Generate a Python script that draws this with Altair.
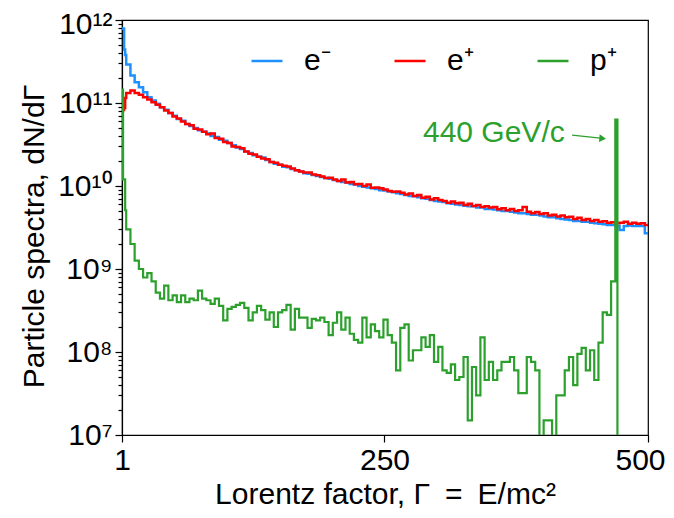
import altair as alt
import pandas as pd

FONT = "Liberation Sans"
GREEN = "#2ca02c"
FS = 30

# Left bin edges of the histogram (Lorentz factor), last edge closes at 500
gamma_edges = [1, 2, 3, 4] + list(range(5, 469, 4)) + [469, 471] + list(range(473, 500, 4))
gamma_max = 500

electrons = [7.9e11, 7.9e11, 4.4e11, 3.8e11,
             2.9e11, 2.15e11, 1.78e11, 1.55e11, 1.35e11, 1.17e11, 1.07e11, 9.8e10, 8.9e10, 8.3e10,
             7.6e10, 7.0e10, 6.4e10, 6.1e10, 5.6e10, 5.3e10, 5.0e10, 4.7e10, 4.5e10, 4.3e10,
             4.0e10, 3.9e10, 3.6e10, 3.5e10, 3.3e10, 3.1e10, 2.9e10, 2.8e10, 2.6e10, 2.5e10,
             2.35e10, 2.25e10, 2.2e10, 2.05e10, 1.95e10, 1.85e10, 1.8e10, 1.7e10, 1.68e10, 1.6e10,
             1.55e10, 1.5e10, 1.42e10, 1.4e10, 1.36e10, 1.32e10, 1.28e10, 1.25e10, 1.22e10, 1.18e10,
             1.15e10, 1.12e10, 1.1e10, 1.06e10, 1.04e10, 1.0e10, 9.8e9, 9.6e9, 9.4e9, 9.2e9,
             8.9e9, 8.8e9, 8.6e9, 8.4e9, 8.2e9, 8.0e9, 7.8e9, 7.6e9, 7.5e9, 7.3e9,
             7.1e9, 7.0e9, 6.8e9, 6.6e9, 6.5e9, 6.4e9, 6.2e9, 6.1e9, 6.0e9, 5.9e9,
             5.8e9, 5.7e9, 5.7e9, 5.5e9, 5.5e9, 5.3e9, 5.3e9, 5.2e9, 5.1e9, 5.0e9,
             5.0e9, 4.9e9, 4.8e9, 4.7e9, 4.7e9, 4.6e9, 4.5e9, 4.5e9, 4.4e9, 4.3e9,
             4.2e9, 4.2e9, 4.1e9, 4.0e9, 3.95e9, 3.9e9, 3.8e9, 3.8e9, 3.7e9, 3.7e9,
             3.6e9, 3.55e9, 3.5e9, 3.45e9, 3.4e9, 3.4e9,
             3.3e9, 3.3e9, 2.95e9, 3.3e9, 3.35e9, 3.3e9, 3.3e9, 3.3e9, 2.7e9]

positrons = [8.0e10, 8.3e10, 8.7e10, 1.15e11,
             1.32e11, 1.41e11, 1.32e11, 1.26e11, 1.17e11, 1.10e11, 1.02e11, 9.5e10, 8.9e10, 8.1e10,
             7.6e10, 6.9e10, 6.5e10, 6.0e10, 5.6e10, 5.4e10, 4.9e10, 4.8e10, 4.5e10, 4.2e10,
             4.3e10, 3.8e10, 3.7e10, 3.4e10, 3.3e10, 3.0e10, 2.95e10, 2.85e10, 2.6e10, 2.45e10,
             2.4e10, 2.25e10, 2.15e10, 2.1e10, 1.95e10, 1.9e10, 1.8e10, 1.75e10, 1.72e10, 1.62e10,
             1.55e10, 1.5e10, 1.45e10, 1.45e10, 1.38e10, 1.35e10, 1.3e10, 1.25e10, 1.26e10, 1.2e10,
             1.15e10, 1.2e10, 1.10e10, 1.12e10, 1.05e10, 1.06e10, 1.0e10, 1.04e10, 9.5e9, 9.6e9,
             9.4e9, 9.1e9, 8.7e9, 8.5e9, 8.6e9, 8.3e9, 7.9e9, 8.1e9, 7.6e9, 7.8e9,
             7.2e9, 7.4e9, 6.9e9, 7.1e9, 6.8e9, 6.6e9, 6.3e9, 6.5e9, 6.2e9, 6.3e9,
             5.9e9, 6.1e9, 5.75e9, 5.9e9, 5.6e9, 5.7e9, 5.5e9, 5.6e9, 5.25e9, 5.4e9,
             5.1e9, 5.3e9, 5.0e9, 5.1e9, 5.6e9, 4.9e9, 4.7e9, 4.85e9, 4.6e9, 4.7e9,
             4.4e9, 4.5e9, 4.3e9, 4.4e9, 4.2e9, 4.25e9, 4.0e9, 4.15e9, 3.9e9, 4.0e9,
             3.8e9, 3.9e9, 3.7e9, 3.75e9, 3.6e9, 3.65e9,
             3.55e9, 3.55e9, 3.6e9, 3.7e9, 3.5e9, 3.6e9, 3.5e9, 3.55e9, 3.4e9]

# empty bins are given 1 (far below the axis, clipped away like matplotlib's log clip)
protons = [1.45e11, 1.2e10, 1.2e10, 5.1e9,
           3.0e9, 2.0e9, 1.26e9, 1.0e9, 7.9e8, 8.9e8, 7.1e8, 5.2e8, 4.4e8, 6.3e8,
           4.2e8, 4.8e8, 4.0e8, 4.8e8, 4.0e8, 4.4e8, 4.2e8, 5.5e8, 4.4e8, 4.2e8,
           3.8e8, 4.4e8, 3.6e8, 2.4e8, 3.3e8, 3.5e8, 3.7e8, 3.9e8, 3.4e8, 2.4e8,
           3.0e8, 3.6e8, 3.2e8, 2.45e8, 3.0e8, 2.0e8, 3.0e8, 3.2e8, 3.7e8, 1.86e8,
           3.3e8, 2.6e8, 2.6e8, 1.95e8, 2.5e8, 2.4e8, 2.6e8, 2.3e8, 1.6e8, 2.25e8,
           3.0e8, 1.86e8, 2.6e8, 1.66e8, 1.4e8, 1.3e8, 2.6e8, 1.5e8, 2.15e8, 1.78e8,
           1.5e8, 2.45e8, 1.6e8, 1.3e8, 6.0e7, 1.95e8, 2.15e8, 7.9e7, 1.05e8, 1.05e8,
           1.5e8, 1.15e8, 1.6e8, 7.6e7, 1.15e8, 6.0e7, 5.6e7, 7.1e7, 4.6e7, 5.0e7,
           8.7e7, 1.5e7, 6.6e7, 3.0e7, 1.5e8, 4.6e7, 7.6e7, 4.6e7, 6.0e7, 7.6e7,
           7.6e7, 8.7e7, 6.0e7, 3.2e7, 3.2e7, 8.7e7, 7.6e7, 6.0e7, 1, 1.5e7,
           1.5e7, 1, 3.0e7, 3.0e7, 6.0e7, 8.7e7, 4.0e7, 9.5e7, 1.12e8, 6.0e7,
           1.05e8, 4.6e7, 1.3e8, 3.0e8, 2.8e8, 7.1e8,
           6.3e10, 1, 1, 1, 1, 1, 1, 1, 1]

species = ["e⁻", "e⁺", "p⁺"]
colors = ["#1e90ff", "#ff0000", GREEN]

y_major = [1e7, 1e8, 1e9, 1e10, 1e11, 1e12]
y_major_labels = ["10⁷", "10⁸", "10⁹", "10¹⁰", "10¹¹", "10¹²"]
y_minor = [m * 10 ** e for e in range(7, 12) for m in range(2, 10)]
x_ticks = [1, 250, 500]

# annotation "440 GeV/c" with arrow pointing at the proton peak
label_text = "440 GeV/c"
label_gamma, label_value = 421, 4.4e10
arrow_start = (428, 4.1e10)
arrow_end = (457, 3.75e10)

rows = []
for name, vals in zip(species, [electrons, positrons, protons]):
    assert len(vals) == len(gamma_edges), (name, len(vals))
    for g, v in zip(gamma_edges, vals):
        rows.append({"gamma": g, "value": v, "species": name})
    rows.append({"gamma": gamma_max, "value": vals[-1], "species": name})
df = pd.DataFrame(rows)

xscale = alt.Scale(domain=[1, 500], nice=False, zero=False)
yscale = alt.Scale(type="log", domain=[1e7, 1e12], nice=False)

xaxis = alt.Axis(values=x_ticks, format="d", tickSize=7, labelPadding=3, grid=False,
                 labelFlush=False,
                 labelOffset={"condition": {"test": "datum.value >= 500", "value": -8}, "value": 0},
                 title="Lorentz factor, Γ\u2002=\u2002E/mc²", titlePadding=4)
label_expr = "[" + ",".join("'" + s + "'" for s in y_major_labels) + "][round(log(datum.value)/LN10) - 7]"
yaxis_major = alt.Axis(values=y_major, labelExpr=label_expr, tickSize=7, labelPadding=3,
                       labelOffset={"condition": {"test": "datum.value >= 1e12", "value": 4}, "value": 0},
                       grid=False, orient="left", title="Particle spectra, dN/dΓ",
                       titlePadding=8, titleY=216)
yaxis_minor = alt.Axis(values=y_minor, labels=False, tickSize=4, domain=False, grid=False,
                       orient="left", title="")

color = alt.Color("species:N", scale=alt.Scale(domain=species, range=colors),
                  legend=alt.Legend(title=None, orient="none", legendX=128, legendY=24,
                                    direction="horizontal", symbolType="stroke", symbolSize=961,
                                    symbolStrokeWidth=2.5, labelFontSize=FS, labelFont=FONT,
                                    labelColor="black", labelOffset=20, columnPadding=58,
                                    padding=0))

base = alt.Chart(df)


def series_layer(name, width, yaxis):
    return base.transform_filter(alt.datum.species == name).mark_line(
        interpolate="step-after", clip=True, strokeWidth=width
    ).encode(
        x=alt.X("gamma:Q", scale=xscale, axis=xaxis),
        y=alt.Y("value:Q", scale=yscale, axis=yaxis),
        color=color,
    )


blue = series_layer(species[0], 2.5, yaxis_major)
red = series_layer(species[1], 2.5, yaxis_minor)
green = series_layer(species[2], 2.2, None)

text_df = pd.DataFrame({"gamma": [label_gamma], "value": [label_value]})
text = alt.Chart(text_df).mark_text(text=label_text, align="right", baseline="middle",
                                    fontSize=FS, font=FONT, color=GREEN).encode(
    x=alt.X("gamma:Q", scale=xscale, axis=xaxis),
    y=alt.Y("value:Q", scale=yscale, axis=None))

arrow_df = pd.DataFrame({"gamma": [arrow_start[0]], "value": [arrow_start[1]],
                         "gamma2": [arrow_end[0]], "value2": [arrow_end[1]]})
arrow = alt.Chart(arrow_df).mark_rule(color=GREEN, strokeWidth=1.3).encode(
    x=alt.X("gamma:Q", scale=xscale, axis=xaxis),
    y=alt.Y("value:Q", scale=yscale, axis=None),
    x2="gamma2:Q", y2="value2:Q")
head_df = pd.DataFrame({"gamma": [arrow_end[0]], "value": [arrow_end[1]]})
head = alt.Chart(head_df).mark_point(shape="triangle-right", filled=True, size=60, angle=5,
                                     color=GREEN, opacity=1).encode(
    x=alt.X("gamma:Q", scale=xscale, axis=xaxis),
    y=alt.Y("value:Q", scale=yscale, axis=None))

chart = alt.layer(blue, red, green, text, arrow, head).resolve_axis(y="independent").properties(
    width=526, height=415,
    autosize=alt.AutoSizeParams(type="none"),
    padding={"left": 114, "top": 12, "right": 18, "bottom": 75},
).configure_view(stroke="black", strokeWidth=1.2).configure_axis(
    labelFont=FONT, titleFont=FONT, labelFontSize=FS, titleFontSize=FS,
    titleFontWeight="normal", labelColor="black", titleColor="black",
    domainColor="black", tickColor="black", tickWidth=1.2, domainWidth=1.2,
)

chart.save("out.html", embed_options={"renderer": "svg", "actions": False})
